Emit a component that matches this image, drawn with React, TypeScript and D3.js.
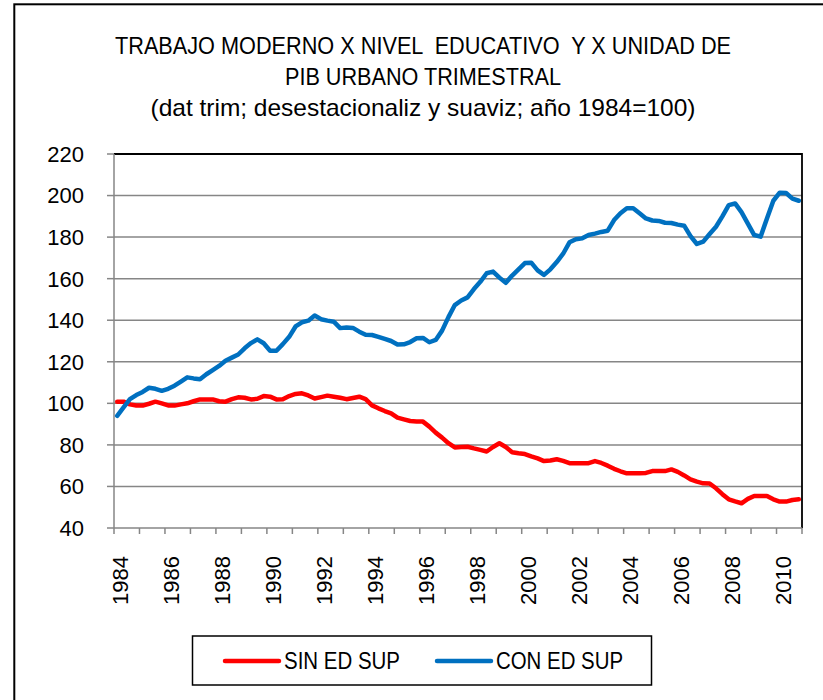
import React from "react";
import * as d3 from "d3";

// quarterly data, 1984Q1 .. 2010Q4 (1984 = 100)
const years = d3.range(1984, 2011);
const tickYears = years.filter((y) => (y - 1984) % 2 === 0);

const sinEdSup = [
  100.8, 100.8, 99.5, 99, 98.9, 99.8, 100.8, 100, 99, 98.9, 99.5, 100,
  101, 101.9, 101.9, 101.9, 101, 100.8, 102, 102.9, 102.7, 101.9, 102.2, 103.5,
  103.2, 101.9, 102, 103.5, 104.5, 104.8, 103.8, 102.3, 103, 103.7, 103.2, 102.7,
  102, 102.6, 103.2, 102, 99, 97.6, 96.3, 95.2, 93.1, 92.3, 91.5, 91.3,
  91.2, 88.8, 85.9, 83.5, 80.8, 78.8, 79, 79.1, 78.3, 77.6, 76.8, 79,
  80.8, 79, 76.5, 76, 75.6, 74.5, 73.5, 72.2, 72.5, 73.1, 72.3, 71.2,
  71.2, 71.2, 71.2, 72.2, 71.3, 70, 68.5, 67.3, 66.3, 66.3, 66.3, 66.5,
  67.4, 67.4, 67.4, 68.2, 67, 65.3, 63.4, 62.3, 61.5, 61.4, 59.1, 56.3,
  53.8, 52.8, 51.9, 54, 55.4, 55.4, 55.4, 53.8, 52.7, 52.7, 53.5, 53.8,
];

const conEdSup = [
  94, 98, 102, 104, 105.5, 107.5, 107, 106, 107, 108.5, 110.5, 112.5,
  112, 111.6, 114, 116, 118, 120.5, 122, 123.5, 126.5, 129, 130.8, 128.9,
  125.3, 125.3, 128.5, 132, 137, 139, 139.8, 142.3, 140.5, 139.8, 139.3, 136.2,
  136.5, 136.3, 134.5, 133, 132.9, 132, 131, 130, 128.3, 128.4, 129.5, 131.3,
  131.5, 129.4, 130.5, 135, 141.5, 147.3, 149.5, 151, 155, 158.5, 162.6, 163.4,
  160.5, 158, 161.5, 164.5, 167.5, 167.7, 164, 161.8, 164.5, 168, 172, 177.5,
  179, 179.4, 181, 181.7, 182.5, 183.1, 188.2, 191.5, 193.9, 193.9, 191.5, 189,
  188, 187.8, 186.9, 186.8, 186, 185.5, 180.5, 176.7, 177.8, 181.5, 185, 190,
  195.4, 196.2, 192, 186.5, 181, 180.2, 189, 197.5, 201.4, 201.2, 198.5, 197.5,
];

const yTicks = [40, 60, 80, 100, 120, 140, 160, 180, 200, 220];

const titleLines = [
  "TRABAJO MODERNO X NIVEL  EDUCATIVO  Y X UNIDAD DE",
  "PIB URBANO TRIMESTRAL",
  "(dat trim; desestacionaliz y suaviz; año 1984=100)",
];

const series = [
  { name: "SIN ED SUP", values: sinEdSup, color: "#ff0000" },
  { name: "CON ED SUP", values: conEdSup, color: "#0070c0" },
];

const W = 823;
const H = 700;
const plot = { left: 114, right: 802, top: 154, bottom: 528 };
const textFont = "'Liberation Sans Narrow', 'Liberation Sans', Arial, sans-serif";
const numFont = "'Liberation Sans', Arial, sans-serif";

export default function App() {
  const n = sinEdSup.length;
  const x = d3.scaleLinear().domain([0, n]).range([plot.left, plot.right]);
  const y = d3.scaleLinear().domain([40, 220]).range([plot.bottom, plot.top]);

  const line = d3
    .line<number>()
    .x((_, i) => x(i + 0.5))
    .y((d) => y(d));

  const quarterTicks = d3.range(0, n + 1, 4);

  return (
    <svg
      width={W}
      height={H}
      style={{ position: "absolute", left: 0, top: 0, background: "#fff" }}
    >
      {/* chart frame (only top and left visible in the crop) */}
      <rect x={14.3} y={4.3} width={900} height={800} fill="#fff" stroke="#000" strokeWidth={2} />

      {/* title */}
      <g fontFamily={textFont} fontSize={24} fill="#000" textAnchor="middle" style={{ whiteSpace: "pre" }}>
        {titleLines.map((t, i) => (
          <text
            key={i}
            x={423}
            y={54 + i * 31}
            textLength={[616, 276, 545][i]}
            lengthAdjust="spacingAndGlyphs"
            xmlSpace="preserve"
          >
            {t}
          </text>
        ))}
      </g>

      {/* gridlines */}
      {yTicks.slice(1, -1).map((t) => (
        <line
          key={t}
          x1={plot.left}
          x2={plot.right}
          y1={y(t)}
          y2={y(t)}
          stroke="#868686"
          strokeWidth={1.5}
        />
      ))}

      {/* plot border top/right */}
      <path
        d={`M${plot.left},${plot.top}H${plot.right}V${plot.bottom}`}
        fill="none"
        stroke="#000"
        strokeWidth={1.8}
      />

      {/* y axis */}
      <g stroke="#868686" strokeWidth={1.5}>
        <line x1={plot.left} x2={plot.left} y1={plot.top} y2={plot.bottom} />
        {yTicks.map((t) => (
          <line key={t} x1={plot.left - 7} x2={plot.left} y1={y(t)} y2={y(t)} />
        ))}
      </g>
      <g fontFamily={numFont} fontSize={22} fill="#000" textAnchor="end">
        {yTicks.map((t) => (
          <text key={t} x={84} y={y(t)} dy="0.36em">
            {t}
          </text>
        ))}
      </g>

      {/* x axis */}
      <g stroke="#868686" strokeWidth={1.5}>
        <line x1={plot.left} x2={plot.right} y1={plot.bottom} y2={plot.bottom} />
        {quarterTicks.map((q) => (
          <line key={q} x1={x(q)} x2={x(q)} y1={plot.bottom} y2={plot.bottom + 6} />
        ))}
      </g>
      <g fontFamily={numFont} fontSize={22} fill="#000" textAnchor="end">
        {tickYears.map((yr) => {
          const cx = x((yr - 1984) * 4 + 0.5) + 3;
          return (
            <text key={yr} transform={`translate(${cx},556) rotate(-90)`} dy="0.36em">
              {yr}
            </text>
          );
        })}
      </g>

      {/* series */}
      {series.map((s) => (
        <path
          key={s.name}
          d={line(s.values) ?? ""}
          fill="none"
          stroke={s.color}
          strokeWidth={4.5}
          strokeLinejoin="round"
          strokeLinecap="round"
        />
      ))}

      {/* legend */}
      <rect x={192.5} y={636} width={459} height={49} fill="#fff" stroke="#000" strokeWidth={1.5} />
      {series.map((s, i) => {
        const lx = [225, 437][i];
        const tx = [284, 496][i];
        return (
          <g key={s.name}>
            <line x1={lx} x2={lx + 54} y1={661} y2={661} stroke={s.color} strokeWidth={4.5} strokeLinecap="round" />
            <text
              x={tx}
              y={669}
              fontFamily={textFont}
              fontSize={24}
              textLength={[116, 127][i]}
              lengthAdjust="spacingAndGlyphs"
            >
              {s.name}
            </text>
          </g>
        );
      })}
    </svg>
  );
}
